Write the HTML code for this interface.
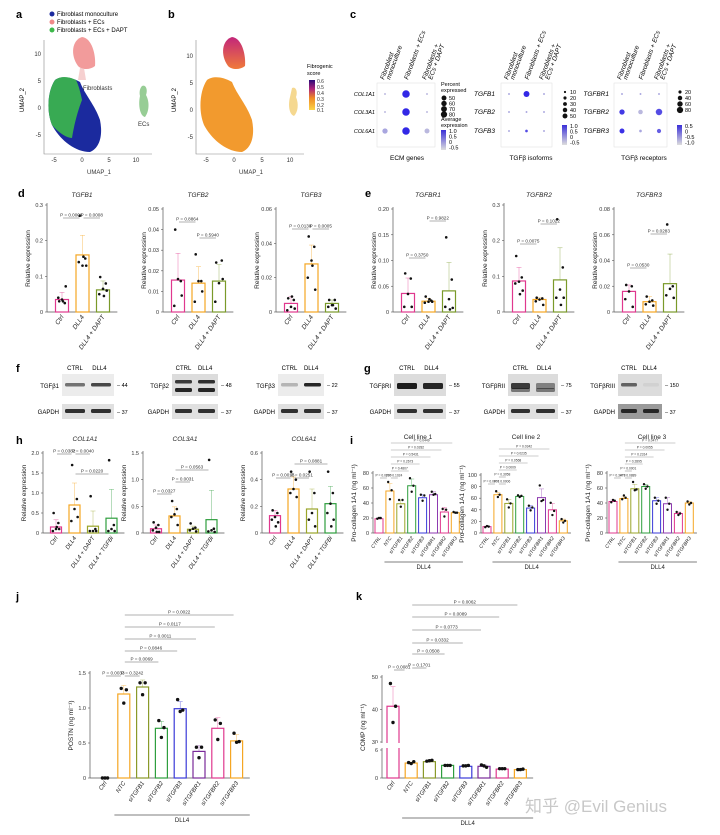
<!DOCTYPE html>
<html><head><meta charset="utf-8">
<style>
html,body{margin:0;padding:0;background:#fff;}
svg{display:block;font-family:"Liberation Sans","Noto Sans CJK SC",sans-serif;}
</style></head>
<body>
<svg id="fig" width="720" height="835" viewBox="0 0 720 835" xmlns="http://www.w3.org/2000/svg">
<defs>
<linearGradient id="fibgrad" x1="0" y1="1" x2="0" y2="0"><stop offset="0" stop-color="#fbd54a"/><stop offset="0.4" stop-color="#f08a24"/><stop offset="0.7" stop-color="#b0267a"/><stop offset="1" stop-color="#2a0a7a"/></linearGradient>
<linearGradient id="expgrad" x1="0" y1="1" x2="0" y2="0"><stop offset="0" stop-color="#ddd"/><stop offset="1" stop-color="#3a2fd8"/></linearGradient>
<linearGradient id="pinkblob" x1="0" y1="0" x2="0" y2="1"><stop offset="0" stop-color="#c2267a"/><stop offset="1" stop-color="#f07a3a"/></linearGradient>
</defs>
<g id="panel-a">
<text x="16" y="18" font-size="11" font-weight="bold">a</text>
<circle cx="52" cy="14" r="2.5" fill="#1b2a9e"/><text x="57" y="16" font-size="6">Fibroblast monoculture</text>
<circle cx="52" cy="22" r="2.5" fill="#f08a8a"/><text x="57" y="24" font-size="6">Fibroblasts + ECs</text>
<circle cx="52" cy="30" r="2.5" fill="#3cb84a"/><text x="57" y="32" font-size="6">Fibroblasts + ECs + DAPT</text>
<path d="M44 40 V154 H152" fill="none" stroke="#888" stroke-width="0.6"/>
<path d="M78 66 C70 55 72 40 82 37 C92 38 96 55 95 66 C90 70 82 70 78 66Z" fill="#f08a8a" opacity="0.85"/>
<path d="M80 68 L78 80 L86 80 L84 68Z" fill="#f0b0b0" opacity="0.6"/>
<path d="M55 80 C48 90 46 110 52 125 C60 140 75 152 90 152 C100 148 103 135 100 120 C95 105 85 95 80 82 C70 76 60 76 55 80Z" fill="#1b2a9e"/>
<path d="M55 80 C48 90 46 110 52 125 C58 132 66 138 72 138 C74 125 78 110 82 100 C80 90 78 84 76 80 C68 76 60 76 55 80Z" fill="#3cb84a" opacity="0.9"/>
<path d="M142 86 C146 84 148 90 146 95 C150 102 149 112 145 117 C140 116 138 105 140 96 C139 92 140 88 142 86Z" fill="#8cc88a" opacity="0.9"/>
<text x="83" y="90" font-size="6" fill="#333">Fibroblasts</text>
<text x="138" y="126" font-size="6" fill="#333">ECs</text>
<g font-size="6" fill="#333" text-anchor="middle"><text x="54" y="162">-5</text><text x="82" y="162">0</text><text x="109" y="162">5</text><text x="136" y="162">10</text><text x="99" y="174">UMAP_1</text></g>
<g font-size="6" fill="#333" text-anchor="end"><text x="41" y="56">10</text><text x="41" y="83">5</text><text x="41" y="110">0</text><text x="41" y="137">-5</text></g>
<text transform="translate(24,100) rotate(-90)" font-size="6" text-anchor="middle">UMAP_2</text>
</g>
<g id="panel-b">
<text x="168" y="18" font-size="11" font-weight="bold">b</text>
<path d="M196 40 V154 H304" fill="none" stroke="#888" stroke-width="0.6"/>
<path d="M228 66 C220 55 222 40 232 37 C242 38 246 55 245 66 C240 70 232 70 228 66Z" fill="url(#pinkblob)"/>
<path d="M207 80 C200 90 198 110 204 125 C212 140 227 152 242 152 C252 148 255 135 252 120 C247 105 237 95 232 82 C222 76 212 76 207 80Z" fill="#f29a2e"/>
<path d="M292 88 C296 86 298 92 296 97 C299 104 298 112 294 116 C289 114 288 105 290 97Z" fill="#f5d890"/>
<g font-size="6" fill="#333" text-anchor="middle"><text x="206" y="162">-5</text><text x="234" y="162">0</text><text x="262" y="162">5</text><text x="290" y="162">10</text><text x="251" y="174">UMAP_1</text></g>
<g font-size="6" fill="#333" text-anchor="end"><text x="193" y="58">10</text><text x="193" y="85">5</text><text x="193" y="112">0</text><text x="193" y="139">-5</text></g>
<text transform="translate(176,100) rotate(-90)" font-size="6" text-anchor="middle">UMAP_2</text>
<text x="307" y="68" font-size="5.5">Fibrogenic</text><text x="307" y="75" font-size="5.5">score</text>
<rect x="309" y="80" width="6" height="30" fill="url(#fibgrad)"/>
<g font-size="5" fill="#333"><text x="317" y="83">0.6</text><text x="317" y="89">0.5</text><text x="317" y="95">0.4</text><text x="317" y="101">0.3</text><text x="317" y="107">0.2</text><text x="317" y="112">0.1</text></g>
</g>
<g id="panel-c">
<text x="350" y="18" font-size="11" font-weight="bold">c</text>
</g>
<g id="blots"></g>
<g id="charts"></g>
<text x="525" y="812" font-size="17" fill="#c8c8c8">知乎 @Evil Genius</text>
</svg>
<script>
// ---------- data ----------
const dCats = ["Ctrl","DLL4","DLL4 + DAPT"];
const dColors = ["#e0388e","#f5a623","#7a9a2a"];
const tgfb1Vals = [0.035,0.16,0.062];
const tgfb1Errs = [0.02,0.055,0.025];
const tgfb1Pts = [[0.03,0.025,0.035,0.04,0.072,0.03],[0.27,0.15,0.13,0.14,0.13,0.155],[0.098,0.08,0.065,0.05,0.06,0.045]];
const tgfb2Vals = [0.0155,0.014,0.015];
const tgfb2Errs = [0.013,0.008,0.008];
const tgfb2Pts = [[0.04,0.015,0.016,0.003,0.008],[0.028,0.015,0.015,0.005,0.01],[0.024,0.025,0.014,0.005,0.016]];
const tgfb3Vals = [0.005,0.028,0.005];
const tgfb3Errs = [0.004,0.011,0.002];
const tgfb3Pts = [[0.008,0.007,0.003,0.001,0.002,0.009],[0.044,0.038,0.03,0.02,0.013,0.027],[0.007,0.007,0.004,0.003,0.002,0.004]];
const tgfbr1Vals = [0.036,0.021,0.041];
const tgfbr1Errs = [0.03,0.005,0.055];
const tgfbr1Pts = [[0.075,0.065,0.035,0.01,0.01],[0.03,0.022,0.02,0.018,0.02,0.025],[0.145,0.063,0.025,0.01,0.008,0.005]];
const tgfbr2Vals = [0.087,0.035,0.09];
const tgfbr2Errs = [0.038,0.005,0.09];
const tgfbr2Pts = [[0.157,0.097,0.085,0.08,0.06,0.05],[0.04,0.038,0.035,0.03,0.02],[0.26,0.125,0.063,0.04,0.04,0.02]];
const tgfbr3Vals = [0.016,0.008,0.022];
const tgfbr3Errs = [0.005,0.004,0.023];
const tgfbr3Pts = [[0.021,0.02,0.016,0.01,0.004],[0.012,0.009,0.008,0.006,0.005],[0.068,0.02,0.018,0.013,0.011]];
const hCats = ["Ctrl","DLL4","DLL4 + DAPT","DLL4 + TGFBi"];
const hColors = ["#e0388e","#f5a623","#9aa52a","#2e9e3e"];
const col1Vals = [0.15,0.7,0.17,0.37];
const col1Errs = [0.18,0.55,0.38,0.72];
const col1Pts = [[0.5,0.25,0.1,0.05,0.1,0.15],[1.7,0.85,0.6,0.3,0.4],[0.92,0.1,0.05,0.05,0.05],[1.82,0.2,0.1,0.05,0.05]];
const col3Vals = [0.08,0.32,0.07,0.25];
const col3Errs = [0.07,0.17,0.06,0.55];
const col3Pts = [[0.2,0.15,0.1,0.05,0.02,0.02],[0.6,0.45,0.35,0.3,0.15],[0.18,0.1,0.08,0.05,0.03],[1.37,0.08,0.05,0.03,0.02]];
const col6Vals = [0.13,0.33,0.18,0.22];
const col6Errs = [0.04,0.09,0.15,0.13];
const col6Pts = [[0.17,0.15,0.12,0.1,0.08,0.05],[0.46,0.4,0.33,0.3,0.27],[0.46,0.3,0.15,0.1,0.05],[0.46,0.3,0.22,0.15,0.1,0.05]];
const iCats = ["CTRL","NTC","siTGFB1","siTGFB2","siTGFB3","siTGFBR1","siTGFBR2","siTGFBR3"];
const iColors = ["#e0388e","#f5a623","#9aa52a","#2e9e3e","#3a3ad8","#8e3ab0","#e0388e","#f5a623"];
const line1Vals = [19,56,39,63,47,51,28,27];
const line1Errs = [1,10,5,9,4,4,6,1];
const line1Pts = [[19,20,20],[68,57,45],[44,44,35],[73,63,55],[51,50,43],[55,52,51],[32,31,22],[28,27,27]];
const line2Vals = [11,66,51,63,43,61,40,21];
const line2Errs = [1,4,7,2,4,15,11,3];
const line2Pts = [[10,11,12],[72,66,62],[58,51,44],[65,64,62],[47,44,39],[82,57,55],[52,38,31],[24,21,18]];
const line3Vals = [42,46,59,62,43,39,26,40];
const line3Errs = [2,2,6,3,4,8,2,2];
const line3Pts = [[41,43,44],[45,47,50],[68,58,57],[65,62,59],[47,43,39],[47,39,31],[28,26,24],[42,40,38]];
const jkCats = ["Ctrl","NTC","siTGFB1","siTGFB2","siTGFB3","siTGFBR1","siTGFBR2","siTGFBR3"];
const jColors = ["#222","#f5a623","#8a9a2a","#2e9e3e","#3a3ad8","#7a2a9a","#e0388e","#f5a623"];
const kColors = ["#e0388e","#f5a623","#8a9a2a","#2e9e3e","#3a3ad8","#7a2a9a","#e0388e","#f5a623"];
const postnVals = [0,1.2,1.3,0.71,0.99,0.38,0.71,0.53];
const postnErrs = [0,0.12,0.1,0.1,0.1,0.08,0.15,0.09];
const postnPts = [[0,0,0],[1.28,1.26,1.07],[1.36,1.36,1.19],[0.82,0.72,0.58],[1.12,0.97,0.95],[0.44,0.44,0.29],[0.83,0.78,0.55],[0.64,0.52,0.51]];
const compVals = [41,3.2,3.5,2.7,2.5,2.5,1.9,1.8];
const compErrs = [6,0.2,0.2,0.1,0.1,0.3,0.1,0.1];
const compPts = [[48,41,36],[3.3,3.5,3.1],[3.6,3.8,3.7],[2.7,2.7,2.7],[2.6,2.7,2.6],[2.8,2.3,2.6],[2.0,2.0,2.0],[1.8,1.9,1.8]];
const ecmGenes = ["COL1A1","COL3A1","COL6A1"];
const ecmPct = [[5,80,5],[5,80,5],[40,80,35]];
const ecmExp = [[0.2,1.0,0.2],[0.2,1.0,0.2],[0.3,1.0,0.2]];
const isoGenes = ["TGFB1","TGFB2","TGFB3"];
const isoPct = [[5,50,5],[5,5,5],[5,10,5]];
const isoExp = [[0.3,1.0,0.3],[0.3,0.3,0.3],[0.3,0.8,0.3]];
const recGenes = ["TGFBR1","TGFBR2","TGFBR3"];
const recPct = [[5,5,5],[40,30,60],[35,10,25]];
const recExp = [[0.3,0.3,0.3],[0.9,0.2,0.8],[0.95,0.3,0.7]];
const dotCols = [["Fibroblast","monoculture"],["Fibroblasts + ECs"],["Fibroblasts +","ECs + DAPT"]];

// ---------- helpers ----------
const NS = "http://www.w3.org/2000/svg";
function el(parent, tag, attrs, txt){
  const e = document.createElementNS(NS, tag);
  for (const k in attrs) e.setAttribute(k, attrs[k]);
  if (txt !== undefined) e.textContent = txt;
  parent.appendChild(e);
  return e;
}
const charts = document.getElementById("charts");
const jit = [-3,3,0,-4,4,1];

function barChart(o){
  const g = el(charts, "g", {});
  
  
  const scale = o.scale || (v => o.y0 - v / o.max * (o.y0 - o.yTop));
  const n = o.cats.length;
  const xEnd = o.first + (n - 1) * o.step + o.step * 0.7;
  el(g, "line", {x1:o.ax, y1:o.yTop - 2, x2:o.ax, y2:o.y0, stroke:"#555", "stroke-width":0.7});
  el(g, "line", {x1:o.ax, y1:o.y0, x2:xEnd, y2:o.y0, stroke:"#555", "stroke-width":0.7});
  o.ticks.forEach((t, i) => {
    const y = scale(t);
    el(g, "line", {x1:o.ax - 2, y1:y, x2:o.ax, y2:y, stroke:"#555", "stroke-width":0.6});
    const tl = el(g, "text", {x:o.ax - 4, y:y + 2, "font-size":5.5, "text-anchor":"end", fill:"#333"}, o.tickLabels[i]);
    
    
  });
  const yl = el(g, "text", {transform:`translate(${o.ax - 17},${(o.yTop + o.y0) / 2}) rotate(-90)`, "font-size":o.ylFont || 6.5, "text-anchor":"middle", fill:"#222"}, o.ylabel);
  
  
  const tt = el(g, "text", {x:o.titleX, y:o.titleY, "font-size":6.5, "text-anchor":"middle", "font-style":o.italic ? "italic" : "normal", fill:"#222"}, o.title);
  
  
  o.vals.forEach((v, i) => {
    const cx = o.first + i * o.step;
    const yb = scale(v);
    const col = o.colors[i];
    const ye = scale(v + o.errs[i]);
    el(g, "line", {x1:cx, y1:yb, x2:cx, y2:ye, stroke:col, "stroke-width":0.5, opacity:0.7});
    el(g, "line", {x1:cx - 2.5, y1:ye, x2:cx + 2.5, y2:ye, stroke:col, "stroke-width":0.5, opacity:0.7});
    const b = el(g, "rect", {x:cx - o.bw / 2, y:yb, width:o.bw, height:Math.max(0, o.y0 - yb), fill:"none", stroke:col, "stroke-width":o.sw || 1.2});
    
    
    o.pts[i].forEach((p, k) => {
      const d = el(g, "circle", {cx:cx + jit[k % 6] * o.bw / 14, cy:scale(p), r:o.pr || 1.3, fill:"#111"});
      
      
    });
    const lab = el(g, "text", {transform:`translate(${cx + 2},${o.y0 + 5}) rotate(-55)`, "font-size":o.catFont || 6, "text-anchor":"end", "font-style":"italic", fill:"#222"}, o.cats[i]);
    
    
  });
  (o.brackets || []).forEach(br => {
    const x1 = o.first + br[0] * o.step - 1, x2 = o.first + br[1] * o.step - 1;
    el(g, "line", {x1:x1 + 2, y1:br[2], x2:x2 - 2, y2:br[2], stroke:"#999", "stroke-width":o.bsw || 0.8});
    const pt = el(g, "text", {x:(x1 + x2) / 2, y:br[2] - 1.5, "font-size":o.pFont || 4.6, "text-anchor":"middle", fill:"#333"}, "P = " + br[3]);
    
    
  });
  if (o.dll4){
    const x1 = o.first + o.step * 0.5, x2 = xEnd;
    el(g, "line", {x1:x1, y1:o.dll4, x2:x2, y2:o.dll4, stroke:"#555", "stroke-width":0.7});
    const dl = el(g, "text", {x:(x1 + x2) / 2, y:o.dll4 + 7, "font-size":6, "text-anchor":"middle", fill:"#222"}, "DLL4");
    
    
  }
  return g;
}

// ---------- panel d / e ----------
el(charts, "text", {x:18, y:197, "font-size":11, "font-weight":"bold"}, "d");
el(charts, "text", {x:365, y:197, "font-size":11, "font-weight":"bold"}, "e");
const dRow = [
  {name:"tgfb1-chart", ax:47, max:0.3, ticks:[0,0.1,0.2,0.3], tickLabels:["0","0.1","0.2","0.3"], vals:tgfb1Vals, errs:tgfb1Errs, pts:tgfb1Pts, title:"TGFB1", brackets:[[0,1,218,"0.0006"],[1,2,218,"0.0008"]]},
  {name:"tgfb2-chart", ax:163, max:0.05, ticks:[0,0.01,0.02,0.03,0.04,0.05], tickLabels:["0","0.01","0.02","0.03","0.04","0.05"], vals:tgfb2Vals, errs:tgfb2Errs, pts:tgfb2Pts, title:"TGFB2", brackets:[[0,1,222,"0.8864"],[1,2,238,"0.5940"]]},
  {name:"tgfb3-chart", ax:276, max:0.06, ticks:[0,0.02,0.04,0.06], tickLabels:["0","0.02","0.04","0.06"], vals:tgfb3Vals, errs:tgfb3Errs, pts:tgfb3Pts, title:"TGFB3", brackets:[[0,1,229,"0.0138"],[1,2,229,"0.0005"]]},
  {name:"tgfbr1-chart", ax:393, max:0.2, ticks:[0,0.05,0.1,0.15,0.2], tickLabels:["0","0.05","0.10","0.15","0.20"], vals:tgfbr1Vals, errs:tgfbr1Errs, pts:tgfbr1Pts, title:"TGFBR1", brackets:[[0,1,258,"0.3750"],[1,2,221,"0.9822"]]},
  {name:"tgfbr2-chart", ax:504, max:0.3, ticks:[0,0.1,0.2,0.3], tickLabels:["0","0.1","0.2","0.3"], vals:tgfbr2Vals, errs:tgfbr2Errs, pts:tgfbr2Pts, title:"TGFBR2", brackets:[[0,1,244,"0.0075"],[1,2,224,"0.1022"]]},
  {name:"tgfbr3-chart", ax:614, max:0.08, ticks:[0,0.02,0.04,0.06,0.08], tickLabels:["0","0.02","0.04","0.06","0.08"], vals:tgfbr3Vals, errs:tgfbr3Errs, pts:tgfbr3Pts, title:"TGFBR3", brackets:[[0,1,268,"0.0530"],[1,2,234,"0.0283"]]}
];
dRow.forEach(c => {
  barChart(Object.assign({cats:dCats, colors:dColors, yTop:205 + (c.max === 0.3 ? 0 : 4), y0:312, first:c.ax + 15, step:20.5, bw:13, ylabel:"Relative expression", titleX:c.ax + 35, titleY:197, italic:true, catFont:6.5}, c));
});

// ---------- blots f / g ----------
const blots = document.getElementById("blots");
el(blots, "text", {x:16, y:372, "font-size":11, "font-weight":"bold"}, "f");
el(blots, "text", {x:364, y:372, "font-size":11, "font-weight":"bold"}, "g");
const blotNames = ["TGFβ1","TGFβ2","TGFβ3","TGFβRI","TGFβRII","TGFβRIII"];
const blotKd = ["44","48","22","55","75","150"];
const blotX = [62,172,278,394,508,618];
const blotW = [52,46,46,52,50,44];
blotNames.forEach((nm, i) => {
  const g = el(blots, "g", {});
  
  
  const x = blotX[i], w = blotW[i];
  el(g, "text", {x:x + w * 0.25, y:370, "font-size":6, "text-anchor":"middle"}, "CTRL");
  el(g, "text", {x:x + w * 0.72, y:370, "font-size":6, "text-anchor":"middle"}, "DLL4");
  el(g, "text", {x:x - 3, y:388, "font-size":6, "text-anchor":"end"}, nm);
  el(g, "text", {x:x - 3, y:414, "font-size":6, "text-anchor":"end"}, "GAPDH");
  const bg = (i === 0 || i === 2) ? "#ececec" : "#dcdcdc";
  el(g, "rect", {x:x, y:374, width:w, height:22, fill:bg});
  el(g, "rect", {x:x, y:404, width:w, height:15, fill:i === 5 ? "#9a9a9a" : "#e0e0e0"});
  const bands = [[0.55,0.75],[0.8,0.85],[0.25,0.9],[0.95,0.9],[0.8,0.45],[0.6,0.05]];
  [0,1].forEach(k => {
    const bx = x + 3 + k * w / 2, bwid = w / 2 - 6;
    el(g, "rect", {x:bx, y:i === 1 ? 380 : 383, width:bwid, height:i >= 3 && i < 5 ? 6 : 3.5, rx:1.5, fill:"#111", opacity:bands[i][k]});
    if (i === 1 || i === 4) el(g, "rect", {x:bx, y:388, width:bwid, height:4, rx:1.5, fill:"#111", opacity:i === 1 ? 0.9 : 0.5});
    el(g, "rect", {x:bx, y:409, width:bwid, height:4, rx:1.5, fill:"#111", opacity:0.85});
  });
  el(g, "text", {x:x + w + 3, y:387, "font-size":5.5}, "– " + blotKd[i]);
  el(g, "text", {x:x + w + 3, y:414, "font-size":5.5}, "– 37");
});

// ---------- panel h ----------
el(charts, "text", {x:16, y:444, "font-size":11, "font-weight":"bold"}, "h");
const hRow = [
  {name:"col1a1-chart", ax:43, max:2.0, ticks:[0,0.5,1,1.5,2], tickLabels:["0","0.5","1.0","1.5","2.0"], vals:col1Vals, errs:col1Errs, pts:col1Pts, title:"COL1A1", brackets:[[0,1,454,"0.0382"],[1,2,454,"0.0040"],[1,3,474,"0.0220"]]},
  {name:"col3a1-chart", ax:143, max:1.5, ticks:[0,0.5,1,1.5], tickLabels:["0","0.5","1.0","1.5"], vals:col3Vals, errs:col3Errs, pts:col3Pts, title:"COL3A1", brackets:[[0,1,494,"0.0327"],[1,2,482,"0.0031"],[1,3,470,"0.0563"]]},
  {name:"col6a1-chart", ax:262, max:0.6, ticks:[0,0.2,0.4,0.6], tickLabels:["0","0.2","0.4","0.6"], vals:col6Vals, errs:col6Errs, pts:col6Pts, title:"COL6A1", brackets:[[0,1,478,"0.0015"],[1,2,478,"0.0251"],[1,3,464,"0.0881"]]}
];
hRow.forEach(c => {
  barChart(Object.assign({cats:hCats, colors:hColors, yTop:453, y0:533, first:c.ax + 13, step:18.5, bw:11, ylabel:"Relative expression", titleX:c.ax + 42, titleY:441, italic:true}, c));
});

// ---------- panel i ----------
el(charts, "text", {x:350, y:444, "font-size":11, "font-weight":"bold"}, "i");
const iRow = [
  {name:"cell-line-1-chart", ax:373, max:80, yTop:473, ticks:[0,20,40,60,80], tickLabels:["0","20","40","60","80"], vals:line1Vals, errs:line1Errs, pts:line1Pts, title:"Cell line 1",
   brackets:[[0,1,478,"0.0280"],[1,2,478,"0.1024"],[1,3,471,"0.4807"],[1,4,464,"0.2673"],[1,5,457,"0.5431"],[1,6,450,"0.0282"],[1,7,443,"0.0449"]]},
  {name:"cell-line-2-chart", ax:481, max:100, yTop:475, ticks:[0,20,40,60,80,100], tickLabels:["0","20","40","60","80","100"], vals:line2Vals, errs:line2Errs, pts:line2Pts, title:"Cell line 2",
   brackets:[[0,1,484,"0.0001"],[1,2,484,"0.0006"],[1,2,477,"0.3058"],[1,3,470,"0.0009"],[1,4,463,"0.0568"],[1,5,456,"0.0235"],[1,6,449,"0.0342"]]},
  {name:"cell-line-3-chart", ax:607, max:80, yTop:473, ticks:[0,20,40,60,80], tickLabels:["0","20","40","60","80"], vals:line3Vals, errs:line3Errs, pts:line3Pts, title:"Cell line 3",
   brackets:[[0,1,478,"0.3473"],[1,2,478,"0.0889"],[1,2,471,"0.0001"],[1,3,464,"0.2895"],[1,4,457,"0.2314"],[1,5,450,"0.0055"],[1,6,443,"0.0477"]]}
];
iRow.forEach(c => {
  barChart(Object.assign({cats:iCats, colors:iColors, y0:533, first:c.ax + 6, step:10.9, bw:8, sw:1, ylabel:"Pro-collagen 1A1 (ng ml⁻¹)", ylFont:6.5, titleX:c.ax + 45, titleY:439, italic:false, catFont:5, pFont:3.3, bsw:0.6, pr:1.2, dll4:562}, c));
});

// ---------- panel j ----------
el(charts, "text", {x:16, y:600, "font-size":11, "font-weight":"bold"}, "j");
barChart({name:"postn-chart", ax:90, max:1.5, yTop:673, y0:778, ticks:[0,0.5,1,1.5], tickLabels:["0","0.5","1.0","1.5"], cats:jkCats, colors:jColors, vals:postnVals, errs:postnErrs, pts:postnPts,
  first:105, step:18.8, bw:12, ylabel:"POSTN (ng ml⁻¹)", titleX:177, titleY:600, italic:false, catFont:6, pr:1.7, dll4:815,
  brackets:[[0,1,676,"0.0033"],[1,2,676,"0.3242"],[1,3,662,"0.0069"],[1,4,651,"0.0846"],[1,5,639,"0.0011"],[1,6,627,"0.0117"],[1,7,615,"0.0022"]]});

// ---------- panel k (broken axis) ----------
el(charts, "text", {x:356, y:600, "font-size":11, "font-weight":"bold"}, "k");
const kScale = v => v <= 6 ? 778 - v / 6 * 28 : 742 - (v - 30) / 20 * 65;
const kg = barChart({name:"comp-chart", ax:382, max:50, yTop:677, y0:778, scale:kScale, ticks:[0,6,30,40,50], tickLabels:["0","6","30","40","50"], cats:jkCats, colors:kColors, vals:compVals, errs:compErrs, pts:compPts,
  first:393, step:18.2, bw:12, ylabel:"COMP (ng ml⁻¹)", titleX:470, titleY:597, italic:false, catFont:6, pr:1.7, dll4:818,
  brackets:[[0,0.8,670,"0.0081"],[1,2,668,"0.1701"],[1,3,654,"0.0508"],[1,4,643,"0.0332"],[1,5,630,"0.0773"],[1,6,617,"0.0089"],[1,7,605,"0.0062"]]});
el(kg, "rect", {x:376, y:743, width:30, height:5, fill:"#fff"});

// ---------- dot plots c ----------
const cPanel = document.getElementById("panel-c");
function dotPlot(genes, pct, exp, bx, bw, rowLabelX, legX, title, titleX, italicRows, legPcts, expLabels){
  const g = el(cPanel, "g", {});
  
  
  el(g, "rect", {x:bx, y:83, width:bw, height:64, fill:"none", stroke:"#ddd", "stroke-width":0.5});
  const rowY = [94, 112, 131];
  dotCols.forEach((c, j) => {
    const cx = bx + 8 + j * (bw - 16) / 2;
    c.forEach((line, li) => {
      el(g, "text", {transform:`translate(${cx + 2 + (c.length - 1 - li) * -6 + (c.length - 1) * 3},80) rotate(-70)`, "font-size":6.5, "font-style":"italic"}, line);
    });
  });
  genes.forEach((gn, r) => {
    el(g, "text", {x:rowLabelX, y:rowY[r] + 2, "font-size":italicRows ? 6.5 : 5.5, "font-style":"italic", "text-anchor":"end"}, gn);
    pct[r].forEach((p, j) => {
      const cx = bx + 8 + j * (bw - 16) / 2;
      const e = exp[r][j];
      const c = `rgb(${Math.round(220 - 170 * e)},${Math.round(220 - 180 * e)},${Math.round(220 + 10 * e)})`;
      const d = el(g, "circle", {cx:cx, cy:rowY[r], r:Math.max(0.6, Math.sqrt(p) * 0.42), fill:c});
      
      
    });
  });
  const ly = italicRows ? 92 : 98;
  const ls = italicRows ? 6 : 5.5;
  legPcts.forEach((p, k) => {
    el(g, "circle", {cx:legX, cy:ly + k * ls, r:Math.max(0.6, Math.sqrt(p) * 0.35), fill:"#111"});
    el(g, "text", {x:legX + 5, y:ly + 2 + k * ls, "font-size":5.5}, String(p));
  });
  const cy0 = italicRows ? 125 : 130;
  el(g, "rect", {x:legX - 3, y:cy0, width:5, height:20, fill:"url(#expgrad)"});
  expLabels.forEach((t, k) => el(g, "text", {x:legX + 5, y:cy0 + 3 + k * 5.5, "font-size":5.5}, t));
  el(g, "text", {x:titleX, y:160, "font-size":6.5, "text-anchor":"middle"}, title);
}
dotPlot(ecmGenes, ecmPct, ecmExp, 377, 58, 375, 444, "ECM genes", 407, false, [50,60,70,80], ["1.0","0.5","0","-0.5"]);
el(cPanel, "text", {x:441, y:86, "font-size":5.5}, "Percent");
el(cPanel, "text", {x:441, y:92, "font-size":5.5}, "expressed");
el(cPanel, "text", {x:441, y:121, "font-size":5.5}, "Average");
el(cPanel, "text", {x:441, y:127, "font-size":5.5}, "expression");
dotPlot(isoGenes, isoPct, isoExp, 501, 51, 495, 565, "TGFβ isoforms", 531, true, [10,20,30,40,50], ["1.0","0.5","0","-0.5"]);
dotPlot(recGenes, recPct, recExp, 614, 53, 609, 680, "TGFβ receptors", 644, true, [20,40,60,80], ["0.5","0","-0.5","-1.0"]);
</script>
</body></html>
